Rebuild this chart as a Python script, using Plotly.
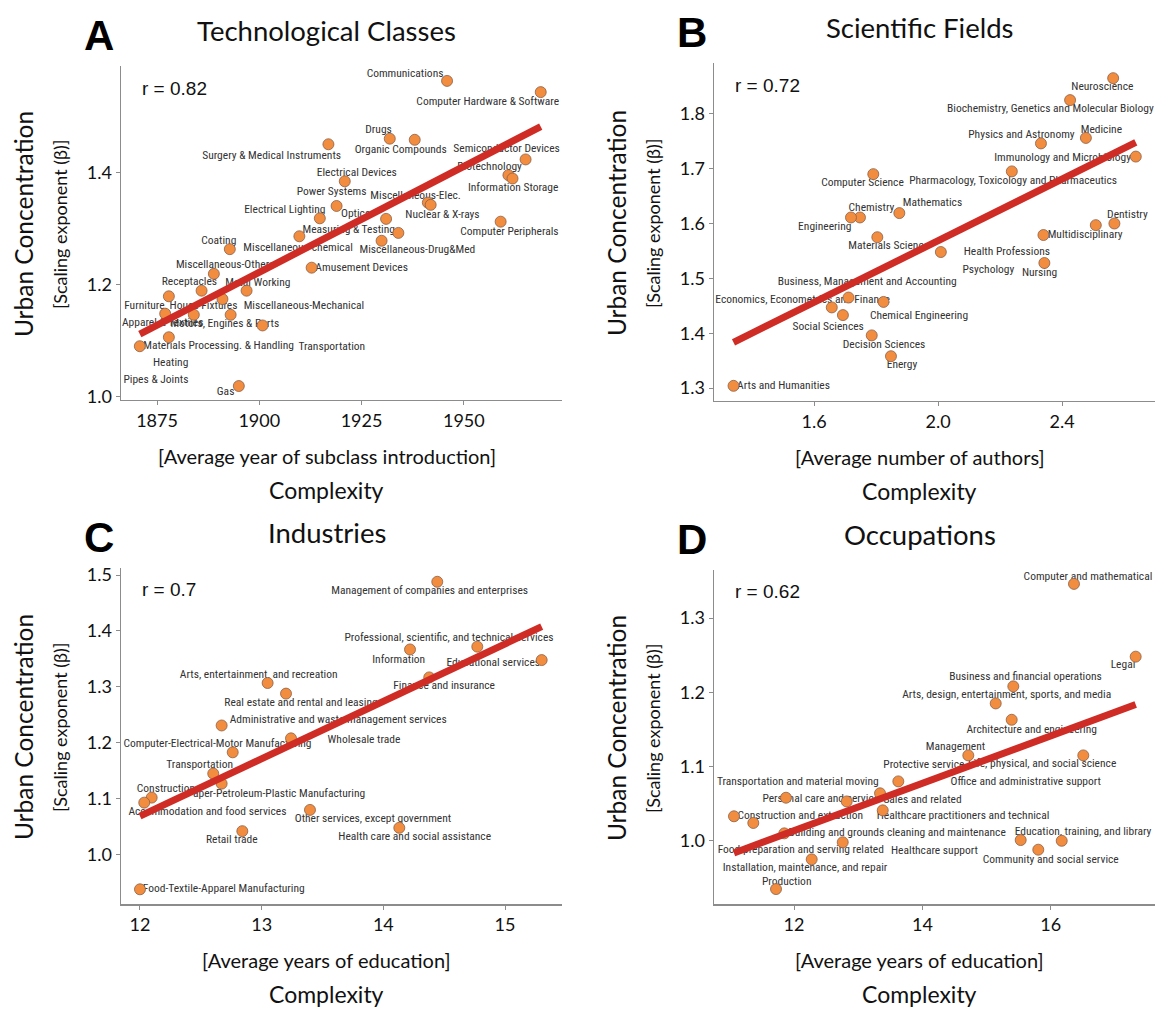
import numpy as np
import plotly.graph_objects as go

W, H = 1158, 1013

# ---------------- Panel A: Technological classes ----------------
tech_names = ["Communications", "Computer Hardware & Software", "Drugs", "Organic Compounds",
              "Semiconductor Devices", "Biotechnology", "Information Storage",
              "Surgery & Medical Instruments", "Electrical Devices", "Power Systems",
              "Electrical Lighting", "Optics", "Measuring & Testing", "Miscellaneous-chemical",
              "Miscellaneous-Drug&Med", "Miscellaneous-Elec.", "Nuclear & X-rays",
              "Computer Peripherals", "Amusement Devices", "Coating", "Miscellaneous-Others",
              "Receptacles", "Metal Working", "Furniture, House Fixtures",
              "Miscellaneous-Mechanical", "Apparel & Textiles", "Motors, Engines & Parts",
              "Materials Processing. & Handling", "Transportation", "Heating", "Pipes & Joints", "Gas"]
tech_year = [1945.9, 1968.8, 1931.9, 1938.0, 1965.1, 1960.9, 1961.9, 1916.9, 1920.9, 1918.9,
             1914.8, 1931.0, 1934.0, 1909.8, 1929.9, 1941.2, 1941.9, 1959.0, 1912.8, 1892.8,
             1888.9, 1885.9, 1896.9, 1877.9, 1893.0, 1877.0, 1884.0, 1870.8, 1900.8, 1877.9,
             1891.0, 1895.0]
tech_beta = [1.563, 1.543, 1.460, 1.458, 1.423, 1.395, 1.389, 1.450, 1.384, 1.340,
             1.318, 1.317, 1.292, 1.286, 1.278, 1.346, 1.342, 1.312, 1.230, 1.263,
             1.219, 1.189, 1.189, 1.179, 1.146, 1.148, 1.146, 1.090, 1.127, 1.106,
             1.174, 1.019]

# ---------------- Panel B: Scientific fields ----------------
sci_names = ["Neuroscience", "Biochemistry, Genetics and Molecular Biology", "Medicine",
             "Physics and Astronomy", "Immunology and Microbiology",
             "Pharmacology, Toxicology and Pharmaceutics", "Computer Science", "Chemistry",
             "Engineering", "Mathematics", "Materials Science", "Dentistry", "Psychology",
             "Multidisciplinary", "Health Professions", "Nursing",
             "Business, Management and Accounting", "Economics, Econometrics and Finance",
             "Chemical Engineering", "Social Sciences", "Decision Sciences", "Energy",
             "Arts and Humanities"]
sci_authors = [2.565, 2.426, 2.477, 2.332, 2.638, 2.238, 1.791, 1.748, 1.719, 1.875, 1.804,
               2.569, 2.509, 2.340, 2.009, 2.343, 1.711, 1.657, 1.824, 1.693, 1.786, 1.848, 1.340]
sci_beta = [1.865, 1.825, 1.756, 1.746, 1.722, 1.695, 1.690, 1.611, 1.611, 1.619, 1.575,
            1.600, 1.597, 1.579, 1.548, 1.528, 1.465, 1.447, 1.457, 1.433, 1.396, 1.358, 1.304]

# ---------------- Panel C: Industries ----------------
ind_names = ["Management of companies and enterprises",
             "Professional, scientific, and technical services", "Information",
             "Educational services", "Finance and insurance", "Health care and social assistance",
             "Other services, except government", "Arts, entertainment, and recreation",
             "Real estate and rental and leasing", "Administrative and waste management services",
             "Wholesale trade", "Computer-Electrical-Motor Manufacturing", "Transportation",
             "Paper-Petroleum-Plastic Manufacturing", "Construction",
             "Accommodation and food services", "Retail trade", "Food-Textile-Apparel Manufacturing"]
ind_edu = [14.443, 14.772, 14.219, 15.301, 14.377, 14.131, 13.397, 13.049, 13.200, 12.671,
           13.241, 12.762, 12.602, 12.671, 12.096, 12.035, 12.841, 12.000]
ind_beta = [1.488, 1.372, 1.367, 1.348, 1.317, 1.048, 1.080, 1.307, 1.288, 1.231,
            1.208, 1.183, 1.145, 1.127, 1.102, 1.093, 1.042, 0.938]

# ---------------- Panel D: Occupations ----------------
occ_names = ["Computer and mathematical", "Legal", "Business and financial operations",
             "Arts, design, entertainment, sports, and media", "Architecture and engineering",
             "Management", "Life, physical, and social science", "Protective service",
             "Sales and related", "Personal care and service", "Office and administrative support",
             "Healthcare practitioners and technical", "Construction and extraction",
             "Transportation and material moving", "Building and grounds cleaning and maintenance",
             "Healthcare support", "Education, training, and library", "Community and social service",
             "Food preparation and serving related", "Installation, maintenance, and repair",
             "Production"]
occ_edu = [16.361, 17.322, 15.416, 15.142, 15.391, 14.715, 16.506, 13.625, 13.340, 11.875,
           12.821, 13.382, 11.065, 11.366, 11.849, 15.531, 16.170, 15.805, 12.759, 12.276, 11.720]
occ_beta = [1.346, 1.248, 1.208, 1.185, 1.163, 1.115, 1.115, 1.080, 1.064, 1.058,
            1.053, 1.041, 1.033, 1.024, 1.010, 1.001, 1.000, 0.988, 0.998, 0.975, 0.935]

r_values = ["r = 0.82", "r = 0.72", "r = 0.7", "r = 0.62"]
panel_titles = ["Technological Classes", "Scientific Fields", "Industries", "Occupations"]
panel_letters = ["A", "B", "C", "D"]
x_subtitles = ["[Average year of subclass introduction]", "[Average number of authors]",
               "[Average years of education]", "[Average years of education]"]

# ---------------- layout (label offsets in pixels: right, down) ----------------
off_A = [(-42, -6.7), (-53, 9.7), (-11.2, -8.7), (-14, 10), (-19, -10), (-18.8, -8.3), (0.6, 10),
         (-56.8, 11.6), (12, -8.3), (-5, -14.3), (-35, -8), (-30.5, -5.3), (-49.6, -2.7),
         (-1.3, 11.7), (35.8, 9.7), (-12.2, -7), (11.8, 10), (8.8, 11), (50, 0), (-11, -7.7),
         (11.3, -8.4), (-12.2, -9), (11.3, -7.7), (12, 10), (73.3, -8.6), (-2.5, 10), (31, 9.3),
         (78.8, 0), (69.3, 21.7), (1.8, 26.6), (-66.5, 82.4), (-13.2, 6.3)]
off_B = [(-10.8, 9.3), (-19.7, 9.3), (15.5, -8.3), (-19.5, -8), (-73.2, 1.7), (1.3, 10),
         (-10.8, 9.3), (11.5, -9.7), (-26.2, 9.3), (33.2, -10.3), (11.4, 9.3), (13, -8.4),
         (-107.4, 45), (41.7, 0), (66, 0), (-4.8, 10), (18.7, -16), (-29.2, -7.4), (35.5, 14.7),
         (-14.7, 12.4), (12.3, 10), (11, 9), (50, 0.7)]
off_C = [(-7.6, 9.3), (-28.3, -9), (-11.3, 10.6), (-48.4, 3.4), (14.9, 9.3), (15.4, 9.6),
         (63, 9.3), (-8.9, -8.4), (15, 9.4), (116.6, -5.3), (73, 2.3), (-15.2, -8.4),
         (-13.6, -9), (54.3, 11), (14.3, -9), (63.2, 9.4), (-10.6, 9), (83.8, 0)]
off_D = [(14, -6.7), (-12.7, 9), (12.2, -9.3), (11, -8.8), (20, 10), (-12.8, -8), (-41.1, 9.3),
         (25.5, -16.4), (42.5, 6.6), (34.8, 1), (179.1, -19.3), (80.3, 6), (66.3, 0),
         (44.5, -41.7), (112.9, 0), (-86.2, 11), (21.3, -9), (12.5, 11), (-41.9, 8.3),
         (-6.7, 9), (10.7, -7.3)]

# pixel boxes of plot areas: left, right, top, bottom
boxes = [(121, 562, 63, 400), (714, 1155, 60, 401), (121, 562, 570, 910), (714, 1155, 572, 910)]
xranges = [(1866.2, 1974.0), (1.277, 2.700), (11.844, 15.468), (10.754, 17.623)]
yranges = [(0.9947, 1.589), (1.277, 1.892), (0.9115, 1.513), (0.9147, 1.365)]
xticks = [dict(tick0=1875, dtick=25), dict(tick0=1.6, dtick=0.4, tickformat=".1f"),
          dict(tick0=12, dtick=1), dict(tick0=12, dtick=2)]
yticks = [dict(tick0=1.0, dtick=0.2, tickformat=".1f"), dict(tick0=1.3, dtick=0.1, tickformat=".1f"),
          dict(tick0=1.0, dtick=0.1, tickformat=".1f"), dict(tick0=1.0, dtick=0.1, tickformat=".1f")]

ORANGE = "#F28C3F"
RED = "#D02C26"
LABEL_FONT = dict(family="Roboto Condensed, Noto Sans Condensed, Lato, sans-serif",
                  size=11.5, color="#333333")
MAIN_FONT = "Lato, Open Sans, sans-serif"

panels = [(tech_names, tech_year, tech_beta, off_A),
          (sci_names, sci_authors, sci_beta, off_B),
          (ind_names, ind_edu, ind_beta, off_C),
          (occ_names, occ_edu, occ_beta, off_D)]

fig = go.Figure()
layout = dict(width=W, height=H, margin=dict(l=0, r=0, t=0, b=0),
              paper_bgcolor="white", plot_bgcolor="white", showlegend=False)
annotations = []

for i, ((names, xs, ys, offs), box, xr, yr) in enumerate(zip(panels, boxes, xranges, yranges)):
    k = "" if i == 0 else str(i + 1)
    xa, ya = "x" + k, "y" + k
    left, right, top, bottom = box
    kx = (right - left) / (xr[1] - xr[0])
    ky = (bottom - top) / (yr[1] - yr[0])
    xs = np.array(xs, dtype=float)
    ys = np.array(ys, dtype=float)
    lx = xs + np.array([o[0] for o in offs]) / kx
    ly = ys - np.array([o[1] for o in offs]) / ky

    fig.add_trace(go.Scatter(x=lx, y=ly, mode="text", text=names, textfont=LABEL_FONT,
                             textposition="middle center", cliponaxis=False,
                             xaxis=xa, yaxis=ya, hoverinfo="skip"))
    fig.add_trace(go.Scatter(x=xs, y=ys, mode="markers", cliponaxis=False,
                             marker=dict(size=11, color=ORANGE, line=dict(color="#8a6048", width=0.8)),
                             xaxis=xa, yaxis=ya, hoverinfo="skip"))
    slope, intercept = np.polyfit(xs, ys, 1)
    xl = np.array([xs.min(), xs.max()])
    fig.add_trace(go.Scatter(x=xl, y=slope * xl + intercept, mode="lines",
                             line=dict(color=RED, width=7), xaxis=xa, yaxis=ya, hoverinfo="skip"))

    axis_common = dict(showline=True, linecolor="#8c8c8c", linewidth=1.5, ticks="outside",
                       ticklen=4, tickwidth=1, tickcolor="#8c8c8c", showgrid=False, zeroline=False,
                       tickfont=dict(family=MAIN_FONT, size=18, color="#111111"))
    layout["xaxis" + k] = dict(domain=[left / W, right / W], range=list(xr), anchor=ya,
                               **axis_common, **xticks[i])
    layout["yaxis" + k] = dict(domain=[1 - bottom / H, 1 - top / H], range=list(yr), anchor=xa,
                               **axis_common, **yticks[i])

    cx = (left + right) / 2 - 15
    annotations.append(dict(text="<b>" + panel_letters[i] + "</b>", x=(left - 22) / W, y=1 - (top - 31) / H,
                            xref="paper", yref="paper", showarrow=False, xanchor="center", yanchor="middle",
                            font=dict(family="Liberation Sans Narrow, Liberation Sans, sans-serif",
                                      size=42, color="black")))
    annotations.append(dict(text=panel_titles[i], x=cx / W, y=1 - (top - 36) / H, xref="paper", yref="paper",
                            showarrow=False, xanchor="center", yanchor="middle",
                            font=dict(family=MAIN_FONT, size=27.5, color="#111111")))
    annotations.append(dict(text=r_values[i], x=(left + 19) / W, y=1 - (top + 22) / H, xref="paper",
                            yref="paper", showarrow=False, xanchor="left", yanchor="middle",
                            font=dict(family="Liberation Sans, Arial, sans-serif", size=19, color="#111111")))
    cy = (top + bottom) / 2 - 9
    annotations.append(dict(text="Urban Concentration", x=(left - 98) / W, y=1 - cy / H, xref="paper",
                            yref="paper", showarrow=False, textangle=-90, xanchor="center", yanchor="middle",
                            font=dict(family=MAIN_FONT, size=24.5, color="#111111")))
    annotations.append(dict(text="[Scaling exponent (\u03b2)]", x=(left - 61) / W, y=1 - cy / H, xref="paper",
                            yref="paper", showarrow=False, textangle=-90, xanchor="center", yanchor="middle",
                            font=dict(family=MAIN_FONT, size=18, color="#111111")))
    annotations.append(dict(text=x_subtitles[i], x=cx / W, y=1 - (bottom + 57) / H, xref="paper",
                            yref="paper", showarrow=False, xanchor="center", yanchor="middle",
                            font=dict(family=MAIN_FONT, size=20, color="#111111")))
    annotations.append(dict(text="Complexity", x=cx / W, y=1 - (bottom + 91) / H, xref="paper",
                            yref="paper", showarrow=False, xanchor="center", yanchor="middle",
                            font=dict(family=MAIN_FONT, size=23, color="#111111")))

layout["annotations"] = annotations
fig.update_layout(**layout)
fig.write_html("out.html", config={"displayModeBar": False, "staticPlot": True},
               post_script="document.body.style.margin='0';document.body.style.overflow='hidden';")
